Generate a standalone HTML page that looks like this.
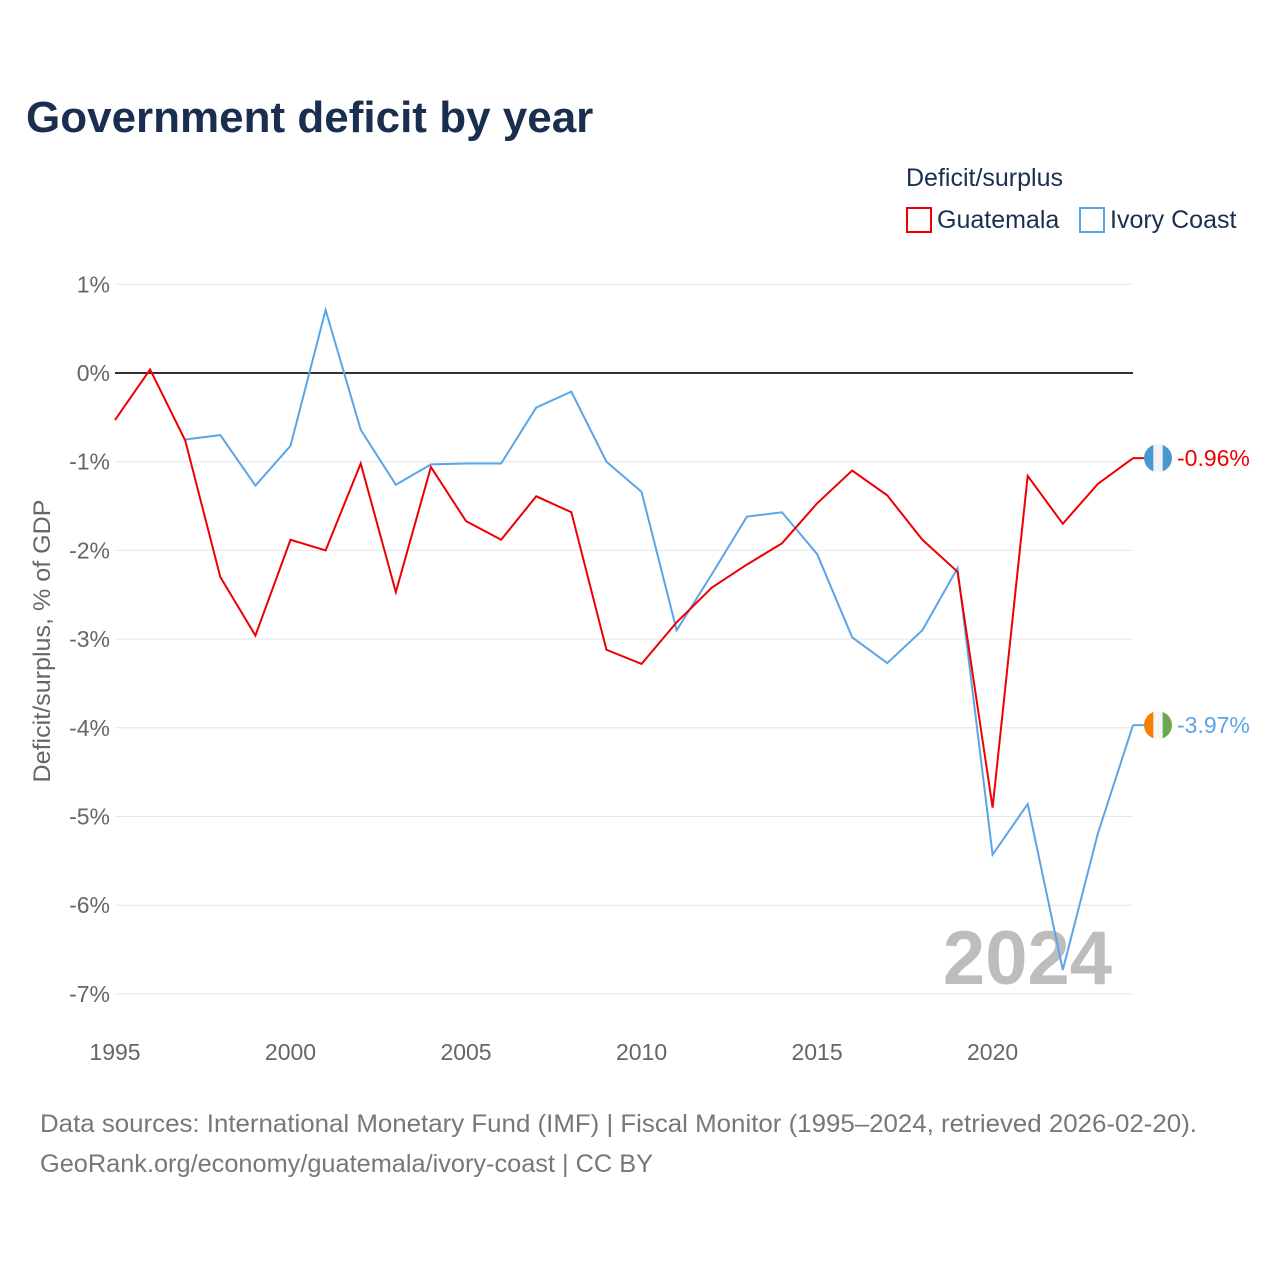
<!DOCTYPE html>
<html><head><meta charset="utf-8"><style>
body{margin:0;background:#fff;font-family:"Liberation Sans",sans-serif;}
#wrap{position:relative;width:1280px;height:1280px;overflow:hidden;}
</style></head><body>
<div id="wrap">
<svg id="chart" width="1280" height="1280"></svg>
</div>
<script>
const years=[1995,1996,1997,1998,1999,2000,2001,2002,2003,2004,2005,2006,2007,2008,2009,2010,2011,2012,2013,2014,2015,2016,2017,2018,2019,2020,2021,2022,2023,2024];
const guatemala=[-0.53,0.04,-0.76,-2.3,-2.96,-1.88,-2.0,-1.02,-2.47,-1.06,-1.67,-1.88,-1.39,-1.57,-3.12,-3.28,-2.81,-2.42,-2.16,-1.92,-1.47,-1.1,-1.38,-1.88,-2.24,-4.9,-1.16,-1.7,-1.25,-0.96];
const ivoryYears=[1997,1998,1999,2000,2001,2002,2003,2004,2005,2006,2007,2008,2009,2010,2011,2012,2013,2014,2015,2016,2017,2018,2019,2020,2021,2022,2023,2024];
const ivoryCoast=[-0.75,-0.7,-1.27,-0.82,0.71,-0.64,-1.26,-1.03,-1.02,-1.02,-0.39,-0.21,-1.0,-1.34,-2.9,-2.27,-1.62,-1.57,-2.04,-2.98,-3.27,-2.9,-2.2,-5.43,-4.86,-6.73,-5.19,-3.97];
const yTicks=[1,0,-1,-2,-3,-4,-5,-6,-7];
const xTicks=[1995,2000,2005,2010,2015,2020];

const NS='http://www.w3.org/2000/svg';
const svg=document.getElementById('chart');
const X=y=>115+(y-1995)*(1133-115)/29;
const Y=v=>373-v*88.7;
function mk(tag,attrs,text){const e=document.createElementNS(NS,tag);for(const k in attrs)e.setAttribute(k,attrs[k]);if(text!==undefined)e.textContent=text;svg.appendChild(e);return e;}

let t=mk('text',{x:26,y:132,'font-size':44,'font-weight':'bold',fill:'#1a2e4f'},'Government deficit by year');



t=mk('text',{x:906,y:186,'font-size':25,fill:'#1a2e4f'},'Deficit/surplus');


let r=mk('rect',{x:907,y:208,width:24,height:24,fill:'none',stroke:'#e00',"stroke-width":2});


t=mk('text',{x:937,y:228,'font-size':25,fill:'#1a2e4f'},'Guatemala');


r=mk('rect',{x:1080,y:208,width:24,height:24,fill:'none',stroke:'#5aa5e8',"stroke-width":2});


t=mk('text',{x:1110,y:228,'font-size':25,fill:'#1a2e4f'},'Ivory Coast');



yTicks.forEach(v=>{
  const l=mk('line',{x1:115,x2:1133,y1:Y(v),y2:Y(v),stroke:v===0?'#333':'#e6e6e6','stroke-width':v===0?2:1});
  
  
  const tx=mk('text',{x:110,y:Y(v)+8,'font-size':23,fill:'#666','text-anchor':'end'},v+'%');
  
  
});
xTicks.forEach(v=>{
  const tx=mk('text',{x:X(v),y:1060,'font-size':23,fill:'#666','text-anchor':'middle'},String(v));
  
  
});
t=mk('text',{x:0,y:0,'font-size':24,fill:'#666','text-anchor':'middle',textLength:283,lengthAdjust:'spacingAndGlyphs',transform:'translate(50,641) rotate(-90)'},'Deficit/surplus, % of GDP');



t=mk('text',{x:1112,y:984,'font-size':76,'font-weight':'bold',fill:'#bdbdbd','text-anchor':'end'},'2024');



let p=mk('polyline',{points:ivoryYears.map((y,i)=>X(y)+','+Y(ivoryCoast[i])).join(' '),fill:'none',stroke:'#5aa5e8','stroke-width':2});


p=mk('polyline',{points:years.map((y,i)=>X(y)+','+Y(guatemala[i])).join(' '),fill:'none',stroke:'#e00','stroke-width':2});



function flag(v,cols,name,color){
  const cy=Y(v),cx=1158;
  const seg=mk('line',{x1:X(2024),x2:cx-14,y1:cy,y2:cy,stroke:color,'stroke-width':2});
  
  
  const g=document.createElementNS(NS,'g');svg.appendChild(g);
  
  
  const cp=document.createElementNS(NS,'clipPath');cp.setAttribute('id','c'+name);
  const c=document.createElementNS(NS,'circle');c.setAttribute('cx',cx);c.setAttribute('cy',cy);c.setAttribute('r',14);cp.appendChild(c);g.appendChild(cp);
  cols.forEach((col,i)=>{const rr=document.createElementNS(NS,'rect');rr.setAttribute('x',cx-14+i*28/3);rr.setAttribute('y',cy-14);rr.setAttribute('width',28/3+0.5);rr.setAttribute('height',28);rr.setAttribute('fill',col);rr.setAttribute('clip-path','url(#c'+name+')');g.appendChild(rr);});
  const lb=mk('text',{x:1177,y:cy+8,'font-size':23,fill:color},v.toFixed(2)+'%');
  
  
}
flag(guatemala[guatemala.length-1],['#4997d0','#f2f2f2','#4997d0'],'guatemala','#e00');
flag(ivoryCoast[ivoryCoast.length-1],['#f77f00','#f5f5f5','#6aa84f'],'ivory-coast','#5aa5e8');

t=mk('text',{x:40,y:1132,'font-size':25,fill:'#777',textLength:1157,lengthAdjust:'spacingAndGlyphs'},'Data sources: International Monetary Fund (IMF) | Fiscal Monitor (1995–2024, retrieved 2026-02-20).');


t=mk('text',{x:40,y:1172,'font-size':25,fill:'#777',textLength:613,lengthAdjust:'spacingAndGlyphs'},'GeoRank.org/economy/guatemala/ivory-coast | CC BY');


</script>
</body></html>
